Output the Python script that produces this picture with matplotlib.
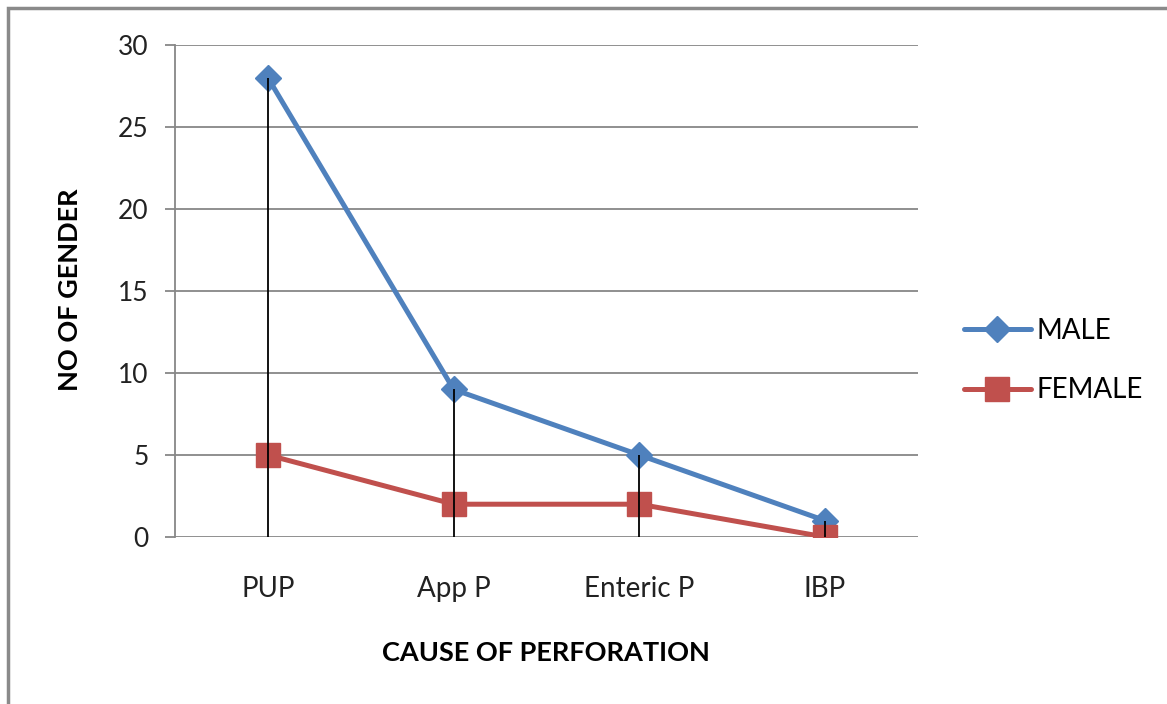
import matplotlib
matplotlib.use("Agg")
import matplotlib.pyplot as plt
from matplotlib.patches import Rectangle

# causes of perforation and count of patients per gender
causes = ["PUP", "App P", "Enteric P", "IBP"]
male = [28, 9, 5, 1]
female = [5, 2, 2, 0]
y_ticks = [0, 5, 10, 15, 20, 25, 30]

plt.rcParams['font.family'] = ['Lato', 'DejaVu Sans']

fig = plt.figure(figsize=(11.67, 7.04), dpi=100)
ax = fig.add_axes([0.15, 0.2372, 0.6366, 0.6989])

x = list(range(len(causes)))

ax.plot(x, male, color='#4F81BD', lw=3.6, marker='D', markersize=13,
        label='MALE', solid_capstyle='round', zorder=3)
ax.plot(x, female, color='#C0504D', lw=3.6, marker='s', markersize=17,
        label='FEMALE', solid_capstyle='round', zorder=3)

# drop lines from the axis up to the highest point of each category
tops = [max(m, f) for m, f in zip(male, female)]
ax.vlines(x, 0, tops, colors='black', lw=1.3, zorder=4)

ax.set_xlim(-0.5, len(causes) - 0.5)
ax.set_ylim(0, 30)
ax.set_yticks(y_ticks)
ax.set_xticks(x)
ax.set_xticklabels(causes)

ax.grid(axis='y', color='#878787', lw=1.3)
ax.set_axisbelow(True)
for side in ['top', 'right', 'bottom']:
    ax.spines[side].set_visible(False)
ax.spines['left'].set_color('#878787')
ax.spines['left'].set_linewidth(1.3)

ax.tick_params(axis='y', length=7, width=1.3, color='#878787', pad=12,
               labelsize=19, labelcolor='#222222')
ax.tick_params(axis='x', length=0, pad=28, labelsize=20, labelcolor='#222222')

ax.set_xlabel('CAUSE OF PERFORATION', fontsize=19.5, fontweight='bold')
ax.xaxis.set_label_coords(0.499, -0.211)
ax.set_ylabel('NO OF GENDER', fontsize=19.5, fontweight='bold')
ax.yaxis.set_label_coords(-0.125, 0.502)

ax.legend(loc='center left', bbox_to_anchor=(0.826, 0.4875),
          bbox_transform=fig.transFigure, frameon=False, fontsize=20,
          handlelength=2.4, handletextpad=0.2, labelspacing=1.2,
          borderpad=0, borderaxespad=0)

# outer chart border
fig.patches.append(Rectangle((8 / 1167, -0.1), 1.2, 1.1 - 8 / 704,
                             transform=fig.transFigure, fill=False,
                             edgecolor='#8a8a8a', lw=2.5))

fig.savefig('out.png', dpi=100)
